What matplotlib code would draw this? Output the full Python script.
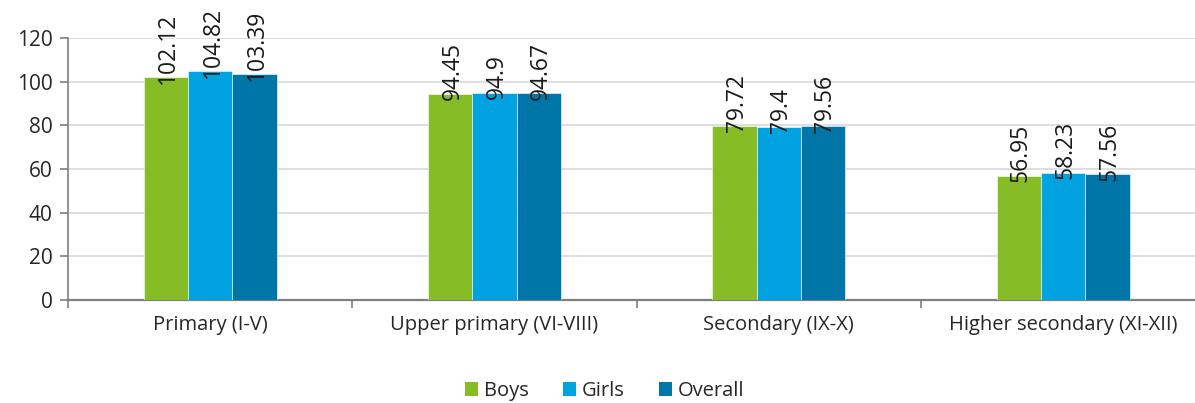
import numpy as np
import matplotlib
matplotlib.use("Agg")
import matplotlib.pyplot as plt
from matplotlib.patches import Patch

plt.rcParams['font.family'] = ['Open Sans', 'DejaVu Sans']

categories = ['Primary (I-V)', 'Upper primary (VI-VIII)', 'Secondary (IX-X)',
              'Higher secondary (XI-XII)']
series_names = ['Boys', 'Girls', 'Overall']
boys = [102.12, 94.45, 79.72, 56.95]
girls = [104.82, 94.9, 79.4, 58.23]
overall = [103.39, 94.67, 79.56, 57.56]
colors = ['#86BC25', '#00A3E0', '#0076A8']
yticks = [0, 20, 40, 60, 80, 100, 120]

fig = plt.figure(figsize=(11.95, 4.03), dpi=100)
# the plot area runs a little past the right edge, as in the original
ax = fig.add_axes([0.057, 0.2556, 0.9515, 0.6501])

x = np.arange(len(categories))
w = 0.156
for i, (vals, col) in enumerate(zip([boys, girls, overall], colors)):
    pos = x + (i - 1) * w
    ax.bar(pos, vals, width=w, color=col, edgecolor='white', linewidth=0.4, zorder=3)
    for p, v in zip(pos, vals):
        ax.text(p + 0.008, v - 3.0, '{0:g}'.format(v), rotation=90, ha='center', va='bottom',
                fontsize=16.5, color='#1a1a1a', zorder=4)

ax.set_xlim(-0.5, len(categories) - 0.5)
ax.set_ylim(0, 120)
ax.set_yticks(yticks)
ax.yaxis.grid(True, color='#D9D9D9', linewidth=1.2, zorder=0)
ax.set_axisbelow(True)

# category labels centered, ticks at the boundaries
ax.set_xticks(x)
ax.set_xticklabels(categories, fontsize=14.5, color='#262626')
ax.tick_params(axis='x', length=0, pad=11)
ax.set_xticks(np.arange(-0.5, len(categories)), minor=True)
ax.tick_params(axis='x', which='minor', length=6, color='#7F7F7F', width=1.2)
ax.tick_params(axis='y', length=6, color='#7F7F7F', width=1.2, labelsize=15,
               labelcolor='#262626', pad=5)

for s in ['top', 'right']:
    ax.spines[s].set_visible(False)
ax.spines['left'].set_color('#7F7F7F')
ax.spines['bottom'].set_color('#7F7F7F')
ax.spines['left'].set_linewidth(1.2)
ax.spines['bottom'].set_linewidth(1.6)

handles = [Patch(facecolor=c, label=n) for c, n in zip(colors, series_names)]
fig.legend(handles=handles, loc='lower center', ncol=3, frameon=False, fontsize=14.5,
           bbox_to_anchor=(0.506, -0.04), handlelength=0.65, handleheight=0.65,
           handletextpad=0.3, columnspacing=1.7, labelcolor='#262626')

fig.savefig('out.png', dpi=100)
